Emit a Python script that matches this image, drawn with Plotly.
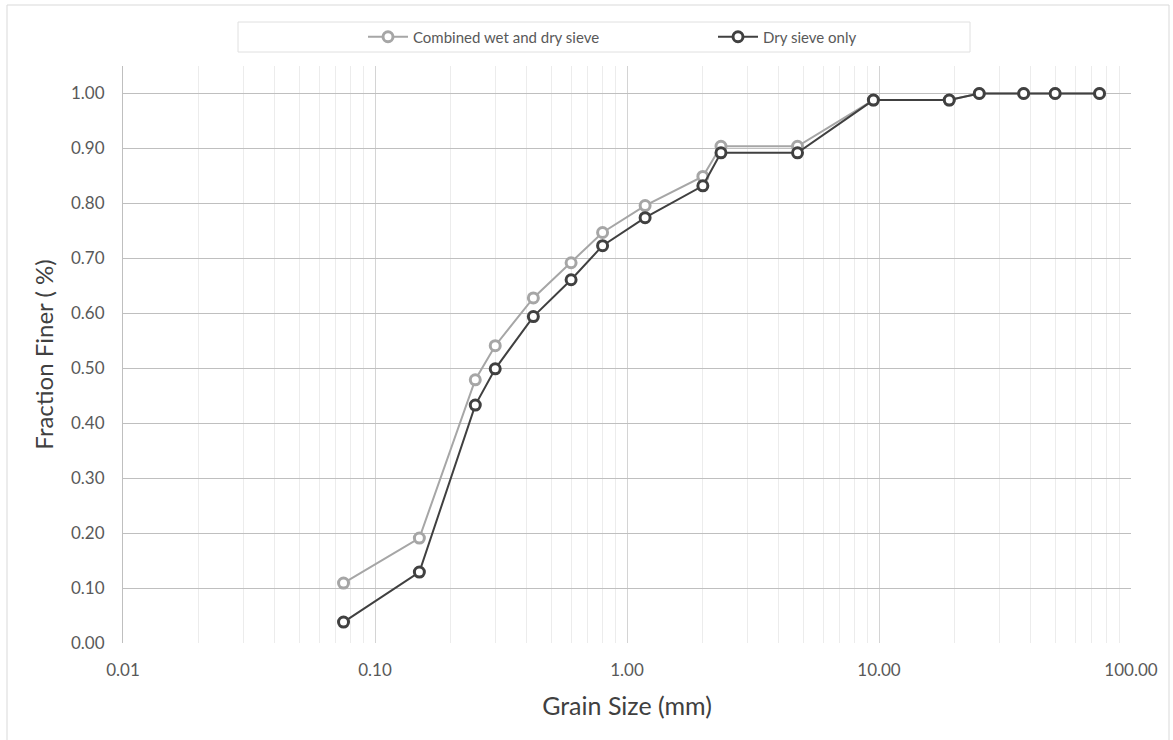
import plotly.graph_objects as go

grain_size = [0.075, 0.15, 0.25, 0.3, 0.425, 0.6, 0.8, 1.18, 2.0, 2.36, 4.75, 9.5, 19, 25, 37.5, 50, 75]
combined = [0.109, 0.191, 0.479, 0.541, 0.628, 0.692, 0.747, 0.796, 0.849, 0.904, 0.904, 0.988, 0.988, 1.0, 1.0, 1.0, 1.0]
dry_only = [0.038, 0.129, 0.433, 0.499, 0.594, 0.661, 0.723, 0.774, 0.832, 0.892, 0.892, 0.988, 0.988, 1.0, 1.0, 1.0, 1.0]

x_tickvals = [0.01, 0.1, 1, 10, 100]
x_ticktext = ["0.01", "0.10", "1.00", "10.00", "100.00"]
y_tickvals = [i / 10 for i in range(11)]
y_ticktext = [f"{v:.2f}" for v in y_tickvals]
minor_vals = [m * 10.0 ** e for e in range(-2, 2) for m in range(2, 10)]

FONT = "Lato, 'Open Sans', sans-serif"

# body margin removed via post_script; plot area in page coords: x 123..1131, y 66..643
W, H = 1173, 740
L, R, T, B = 123, 42, 66, 97
PW = W - L - R  # 1008
PH = H - T - B  # 577


def px_x(px):
    return (px - L) / PW


def px_y(py):
    return (H - B - py) / PH


fig = go.Figure()
fig.add_trace(go.Scatter(
    x=grain_size, y=combined, mode="lines+markers", name="Combined wet and dry sieve",
    line=dict(color="#a6a6a6", width=2),
    marker=dict(symbol="circle", size=10, color="white", line=dict(color="#a6a6a6", width=3)),
))
fig.add_trace(go.Scatter(
    x=grain_size, y=dry_only, mode="lines+markers", name="Dry sieve only",
    line=dict(color="#404040", width=2),
    marker=dict(symbol="circle", size=10, color="white", line=dict(color="#404040", width=3)),
))

fig.update_layout(
    width=W, height=H,
    margin=dict(l=L, r=R, t=T, b=B),
    paper_bgcolor="white", plot_bgcolor="white",
    font=dict(family=FONT, color="#595959"),
    showlegend=True,
    legend=dict(orientation="h", x=px_x(363), xanchor="left", y=px_y(37), yanchor="middle",
                bgcolor="rgba(0,0,0,0)", font=dict(size=15, color="#595959"),
                entrywidth=295, itemwidth=40),
    xaxis=dict(
        type="log", range=[-2, 2], tickvals=x_tickvals, ticktext=x_ticktext,
        showgrid=True, gridcolor="#d4d4d4", gridwidth=1,
        minor=dict(tickvals=minor_vals, showgrid=True, gridcolor="#ececec", gridwidth=1, ticks=""),
        showline=False, zeroline=False, ticks="", ticklabelstandoff=15,
        tickfont=dict(size=17, color="#595959"),
        title=dict(text="Grain Size (mm)", font=dict(size=25, color="#404040"), standoff=18),
    ),
    yaxis=dict(
        range=[0, 1.05], tickvals=y_tickvals, ticktext=y_ticktext,
        showgrid=True, gridcolor="#bfbfbf", gridwidth=1,
        showline=True, linecolor="#bfbfbf", linewidth=1, zeroline=False, ticks="", ticklabelstandoff=14,
        tickfont=dict(size=17, color="#595959"),
        title=dict(text="Fraction Finer ( %)", font=dict(size=24, color="#404040"), standoff=10),
    ),
    shapes=[
        dict(type="rect", xref="paper", yref="paper",
             x0=px_x(238), x1=px_x(970), y0=px_y(52), y1=px_y(22),
             line=dict(color="#e0e0e0", width=1), fillcolor="rgba(0,0,0,0)", layer="below"),
        dict(type="rect", xref="paper", yref="paper",
             x0=px_x(7), x1=px_x(1169), y0=px_y(760), y1=px_y(5),
             line=dict(color="#d9d9d9", width=1), fillcolor="rgba(0,0,0,0)", layer="below"),
    ],
)

fig.write_html(
    "out.html",
    config={"displayModeBar": False},
    post_script="document.body.style.margin='0';document.body.style.overflow='hidden';",
)
